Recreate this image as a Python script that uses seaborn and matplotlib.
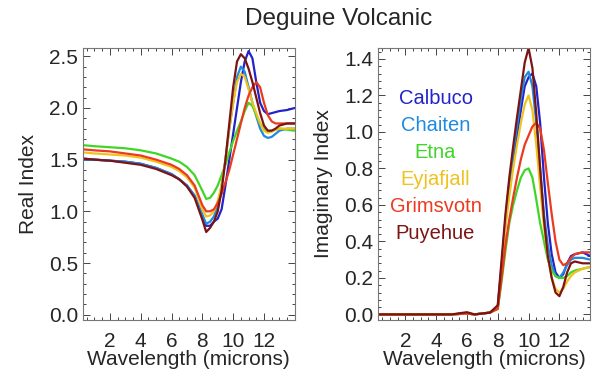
import numpy as np
import pandas as pd
import matplotlib
matplotlib.use("Agg")
import matplotlib.pyplot as plt
import seaborn as sns
from matplotlib.ticker import AutoMinorLocator, MultipleLocator, FormatStrFormatter

volcanoes = ["Calbuco", "Chaiten", "Etna", "Eyjafjall", "Grimsvotn", "Puyehue"]
colors = ["#2323c8", "#1f8ae0", "#3fd627", "#f0c21e", "#ec3a1e", "#7c1414"]

wavelength = [0.25, 1, 2, 3, 4, 5, 6, 6.5, 7, 7.5, 8, 8.25, 8.5, 8.75, 9, 9.25, 9.5,
              9.75, 10, 10.25, 10.5, 10.75, 11, 11.25, 11.5, 11.75, 12, 12.25, 12.5,
              12.75, 13, 13.5, 14]

real_calbuco = [1.51, 1.50, 1.49, 1.48, 1.46, 1.42, 1.36, 1.31, 1.25, 1.15, 0.95, 0.86, 0.86,
                0.90, 0.93, 1.02, 1.25, 1.50, 1.75, 2.00, 2.25, 2.45, 2.55, 2.48, 2.25, 2.05,
                1.97, 1.94, 1.95, 1.96, 1.97, 1.98, 2.00]
real_chaiten = [1.50, 1.50, 1.49, 1.48, 1.46, 1.42, 1.36, 1.31, 1.25, 1.15, 0.97, 0.88, 0.90,
                0.95, 1.05, 1.25, 1.50, 1.80, 2.05, 2.30, 2.40, 2.35, 2.20, 2.05, 1.92, 1.80,
                1.73, 1.71, 1.72, 1.75, 1.78, 1.80, 1.80]
real_etna = [1.64, 1.63, 1.62, 1.61, 1.59, 1.56, 1.51, 1.48, 1.43, 1.35, 1.20, 1.12, 1.13,
             1.18, 1.25, 1.35, 1.45, 1.57, 1.68, 1.78, 1.87, 1.97, 2.05, 2.02, 1.93, 1.85,
             1.80, 1.78, 1.78, 1.79, 1.80, 1.79, 1.78]
real_eyjafjall = [1.57, 1.56, 1.55, 1.54, 1.52, 1.48, 1.43, 1.39, 1.33, 1.23, 1.02, 0.95, 0.96,
                  1.00, 1.10, 1.25, 1.50, 1.80, 2.05, 2.25, 2.33, 2.30, 2.18, 2.05, 1.95, 1.85,
                  1.78, 1.76, 1.77, 1.79, 1.80, 1.80, 1.80]
real_grimsvotn = [1.60, 1.59, 1.58, 1.56, 1.54, 1.50, 1.45, 1.41, 1.35, 1.25, 1.06, 1.00, 1.00,
                  1.02, 1.08, 1.17, 1.28, 1.40, 1.55, 1.70, 1.85, 2.00, 2.12, 2.20, 2.25, 2.20,
                  2.05, 1.93, 1.87, 1.85, 1.85, 1.85, 1.85]
real_puyehue = [1.51, 1.50, 1.49, 1.47, 1.45, 1.41, 1.35, 1.31, 1.24, 1.13, 0.92, 0.80, 0.84,
                0.90, 1.00, 1.20, 1.50, 1.85, 2.20, 2.45, 2.52, 2.48, 2.38, 2.25, 2.10, 1.95,
                1.83, 1.78, 1.78, 1.80, 1.83, 1.85, 1.85]

imag_calbuco = [0.0, 0.0, 0.0, 0.0, 0.0, 0.0, 0.005, 0.0, 0.005, 0.01, 0.04, 0.25, 0.50,
                0.68, 0.83, 0.98, 1.12, 1.25, 1.30, 1.32, 1.25, 1.05, 0.75, 0.50, 0.33, 0.23,
                0.20, 0.22, 0.28, 0.32, 0.33, 0.34, 0.32]
imag_chaiten = [0.0, 0.0, 0.0, 0.0, 0.0, 0.0, 0.005, 0.0, 0.005, 0.01, 0.04, 0.27, 0.52,
                0.72, 0.88, 1.03, 1.18, 1.30, 1.33, 1.25, 1.05, 0.80, 0.55, 0.38, 0.27, 0.21,
                0.20, 0.23, 0.27, 0.30, 0.31, 0.31, 0.30]
imag_etna = [0.0, 0.0, 0.0, 0.0, 0.0, 0.0, 0.005, 0.0, 0.005, 0.01, 0.03, 0.18, 0.35,
             0.50, 0.60, 0.68, 0.75, 0.79, 0.80, 0.75, 0.63, 0.50, 0.40, 0.30, 0.24, 0.21,
             0.20, 0.20, 0.21, 0.23, 0.24, 0.25, 0.26]
imag_eyjafjall = [0.0, 0.0, 0.0, 0.0, 0.0, 0.0, 0.005, 0.0, 0.005, 0.01, 0.04, 0.25, 0.48,
                  0.65, 0.80, 0.93, 1.05, 1.15, 1.20, 1.12, 0.93, 0.70, 0.48, 0.32, 0.20, 0.14,
                  0.12, 0.14, 0.18, 0.21, 0.23, 0.25, 0.26]
imag_grimsvotn = [0.0, 0.0, 0.0, 0.0, 0.0, 0.0, 0.005, 0.0, 0.005, 0.01, 0.03, 0.20, 0.38,
                  0.52, 0.64, 0.75, 0.85, 0.93, 0.98, 1.03, 1.05, 1.02, 0.90, 0.72, 0.55, 0.40,
                  0.30, 0.27, 0.28, 0.31, 0.33, 0.34, 0.34]
imag_puyehue = [0.0, 0.0, 0.0, 0.0, 0.0, 0.0, 0.012, 0.0, 0.005, 0.01, 0.05, 0.30, 0.55,
                0.75, 0.92, 1.08, 1.23, 1.38, 1.46, 1.35, 1.10, 0.80, 0.52, 0.32, 0.20, 0.12,
                0.10, 0.15, 0.23, 0.28, 0.29, 0.28, 0.28]

real_values = [real_calbuco, real_chaiten, real_etna, real_eyjafjall, real_grimsvotn, real_puyehue]
imag_values = [imag_calbuco, imag_chaiten, imag_etna, imag_eyjafjall, imag_grimsvotn, imag_puyehue]

rows = []
for name, re_vals, im_vals in zip(volcanoes, real_values, imag_values):
    for w, r, i in zip(wavelength, re_vals, im_vals):
        rows.append({"Wavelength": w, "Real": r, "Imag": i, "Volcano": name})
df = pd.DataFrame(rows)

sns.set_theme(style="white")
plt.rcParams['font.family'] = ['Liberation Sans', 'DejaVu Sans']

fig = plt.figure(figsize=(5.92, 3.75), dpi=100)
ax1 = fig.add_axes([0.140, 0.147, 0.358, 0.725])
ax2 = fig.add_axes([0.639, 0.147, 0.358, 0.725])

palette = dict(zip(volcanoes, colors))
sns.lineplot(data=df, x="Wavelength", y="Real", hue="Volcano", palette=palette,
             linewidth=1.6, legend=False, ax=ax1, sort=False)
sns.lineplot(data=df, x="Wavelength", y="Imag", hue="Volcano", palette=palette,
             linewidth=1.6, legend=False, ax=ax2, sort=False)

ax1.set_xlim(0.25, 14)
ax1.set_ylim(-0.05, 2.58)
ax2.set_xlim(0.25, 14)
ax2.set_ylim(-0.03, 1.46)
ax1.yaxis.set_major_locator(MultipleLocator(0.5))
ax2.yaxis.set_major_locator(MultipleLocator(0.2))
ax1.yaxis.set_major_formatter(FormatStrFormatter('%.1f'))
ax2.yaxis.set_major_formatter(FormatStrFormatter('%.1f'))

for ax, ylab in [(ax1, "Real Index"), (ax2, "Imaginary Index")]:
    ax.set_xticks([2, 4, 6, 8, 10, 12])
    ax.xaxis.set_minor_locator(AutoMinorLocator(4))
    ax.yaxis.set_minor_locator(AutoMinorLocator(5))
    ax.tick_params(which="both", direction="in", top=True, right=True, bottom=True, left=True,
                   color="#444444", width=0.7)
    ax.tick_params(which="major", length=5, labelsize=15, pad=3.5)
    ax.tick_params(axis="x", which="major", pad=9)
    ax.tick_params(which="minor", length=2.5)
    for s in ax.spines.values():
        s.set_color("#777777")
        s.set_linewidth(0.8)
    ax.set_xlabel("Wavelength (microns)", fontsize=15, labelpad=-1)
    ax.set_ylabel(ylab, fontsize=15, labelpad=8)

for k, (name, c) in enumerate(zip(volcanoes, colors)):
    ax2.text(0.27, 0.816 - k * 0.0993, name, color=c, fontsize=14.5,
             ha="center", va="center", transform=ax2.transAxes)

fig.text(0.572, 0.948, "Deguine Volcanic", ha="center", va="center", fontsize=17.5)

fig.savefig("out.png", dpi=100)
